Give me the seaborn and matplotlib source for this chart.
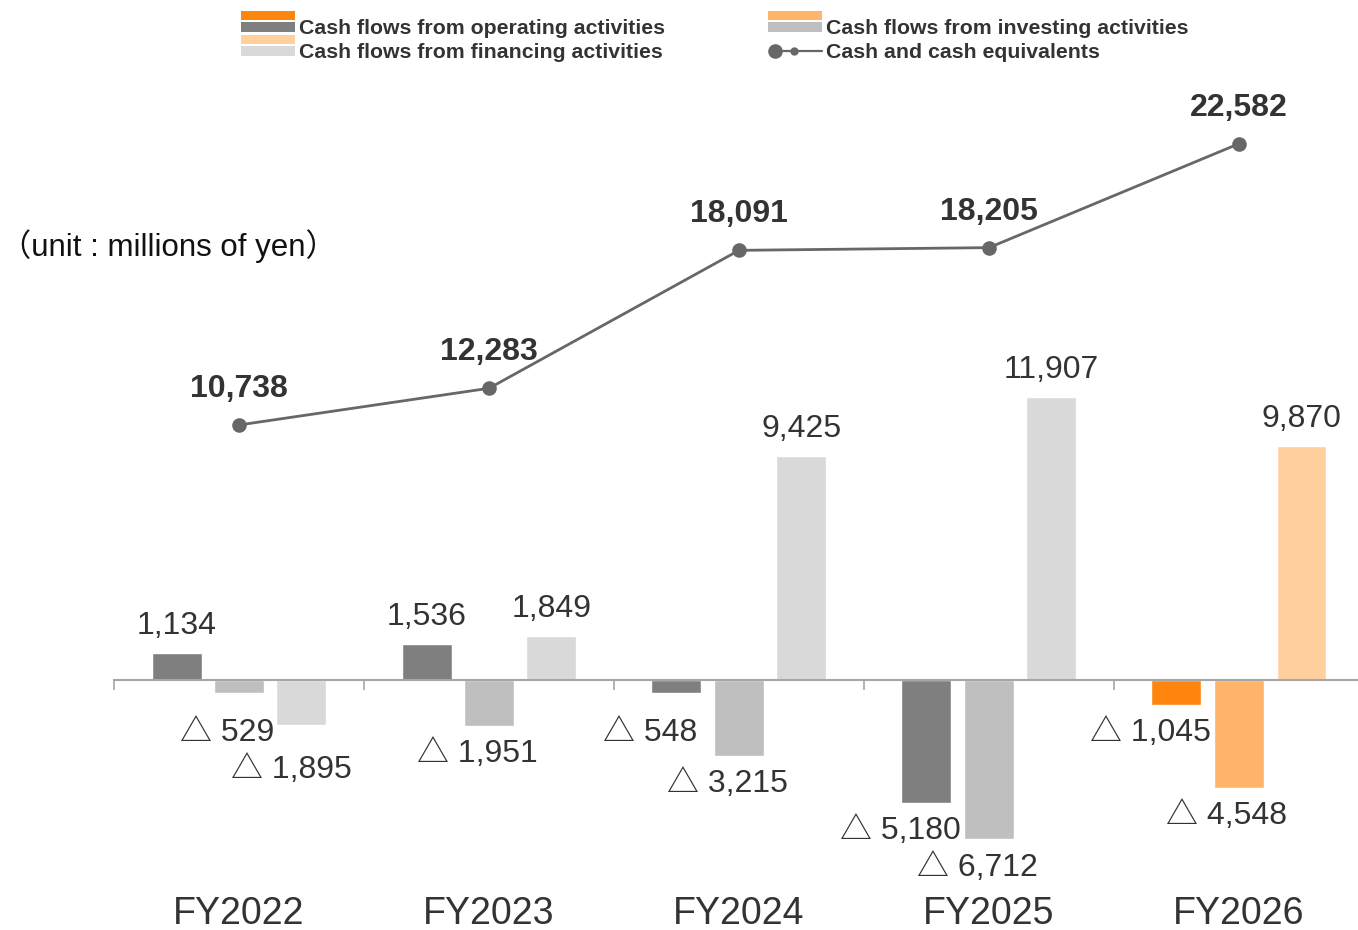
import numpy as np
import pandas as pd
import seaborn as sns
import matplotlib.pyplot as plt
from matplotlib.legend_handler import HandlerBase
from matplotlib.patches import Rectangle
from matplotlib.lines import Line2D


# Data (millions of yen)
YEARS = ['FY2022', 'FY2023', 'FY2024', 'FY2025', 'FY2026']
OPERATING = [1134, 1536, -548, -5180, -1045]
INVESTING = [-529, -1951, -3215, -6712, -4548]
FINANCING = [-1895, 1849, 9425, 11907, 9870]
CASH = [10738, 12283, 18091, 18205, 22582]
SERIES = ['Cash flows from operating activities',
          'Cash flows from investing activities',
          'Cash flows from financing activities']
CASH_LABEL = 'Cash and cash equivalents'
UNIT_LABEL = '（unit : millions of yen）'

# Style
GRAYS = ['#7f7f7f', '#bfbfbf', '#d9d9d9']
ORANGES = ['#ff850f', '#ffb469', '#ffd09e']
NEG_SHIFT = [-26, -12, -10]   # px, horizontal nudge of negative labels per series
LINE_COLOR = '#676767'
AXIS_COLOR = '#a6a6a6'
TEXT_COLOR = '#333333'
W, H, DPI = 1358, 930, 100
PX_PER_UNIT = 0.02375   # vertical scale of the plot
ZERO_PX = 680           # zero line, px from top


class StackedHandle:
    def __init__(self, top, bottom):
        self.top, self.bottom = top, bottom


class StackedHandler(HandlerBase):
    def create_artists(self, legend, orig_handle, xdescent, ydescent,
                       width, height, fontsize, trans):
        mid = height / 2 - ydescent
        low = Rectangle((-xdescent, mid - 3.6), width, 7.2,
                        facecolor=orig_handle.bottom, lw=0, transform=trans)
        high = Rectangle((-xdescent, mid + 5.0), width, 6.5,
                         facecolor=orig_handle.top, lw=0, transform=trans)
        return [low, high]


class CashHandle:
    pass


class CashHandler(HandlerBase):
    def create_artists(self, legend, orig_handle, xdescent, ydescent,
                       width, height, fontsize, trans):
        mid = height / 2 - ydescent
        x0 = -xdescent
        line = Line2D([x0 + 5, x0 + width], [mid, mid], color=LINE_COLOR,
                      lw=1.6, transform=trans)
        big = Line2D([x0 + 5], [mid], marker='o', markersize=10.5,
                     color=LINE_COLOR, mew=0, transform=trans)
        small = Line2D([x0 + width * 0.47], [mid], marker='o', markersize=6,
                       color=LINE_COLOR, mew=0, transform=trans)
        return [line, big, small]


sns.set_theme(style='white')
plt.rcParams['font.family'] = ['Liberation Sans', 'Noto Sans CJK JP', 'DejaVu Sans']

n = len(YEARS)
df = pd.DataFrame({
    'pos': np.tile(np.arange(n), 3),
    'value': OPERATING + INVESTING + FINANCING,
    'series': np.repeat(SERIES, n),
})

fig = plt.figure(figsize=(W / DPI, H / DPI), dpi=DPI)
ax = fig.add_axes([0, 0, 1, 1])

sns.barplot(data=df, x='pos', y='value', hue='series', hue_order=SERIES,
            palette=GRAYS, width=0.75, gap=0.2, saturation=1,
            errorbar=None, legend=False, ax=ax)

# last year drawn in orange tones
for container, orange in zip(ax.containers, ORANGES):
    container.patches[-1].set_facecolor(orange)

# bar value labels; negatives get a triangle and are pushed apart when they crowd
last_neg = {}
for container, vals, shift in zip(ax.containers, [OPERATING, INVESTING, FINANCING], NEG_SHIFT):
    for i, (patch, v) in enumerate(zip(container.patches, vals)):
        x = patch.get_x() + patch.get_width() / 2
        if v >= 0:
            ax.annotate(f'{v:,}', (x, v), xytext=(0, 27), textcoords='offset pixels',
                        ha='center', va='center', fontsize=23, color=TEXT_COLOR)
        else:
            off = max(-v * PX_PER_UNIT + 28, 53)
            if i in last_neg and off - last_neg[i] < 37:
                off = last_neg[i] + 37
            last_neg[i] = off
            ax.annotate(f'△ {-v:,}', (x, 0), xytext=(shift, -off),
                        textcoords='offset pixels', ha='center', va='center',
                        fontsize=23, color=TEXT_COLOR)

sns.lineplot(x=np.arange(n), y=CASH, color=LINE_COLOR, lw=2, marker='o',
             markersize=10.5, markeredgewidth=0, ax=ax)

for i, v in enumerate(CASH):
    ax.annotate(f'{v:,}', (i, v), xytext=(0, 36), textcoords='offset pixels',
                ha='center', va='center', fontsize=23, fontweight='bold', color=TEXT_COLOR)

# axes layout: 250 px per category, first category centred at x=239 px
ax.set_xlim(-239 / 250, (W - 239) / 250)
ax.set_ylim(-(H - ZERO_PX) / PX_PER_UNIT, ZERO_PX / PX_PER_UNIT)

sns.despine(ax=ax, left=True)
ax.spines['bottom'].set_position(('data', 0))
ax.spines['bottom'].set_bounds(-0.5, (W - 239) / 250)
ax.spines['bottom'].set_color(AXIS_COLOR)
ax.spines['bottom'].set_linewidth(1.5)
ax.set_xticks(np.arange(n) - 0.5)
ax.tick_params(axis='x', bottom=True, direction='out', length=7.5, width=1.2,
               color=AXIS_COLOR, labelbottom=False)
ax.set_yticks([])
ax.set_xlabel('')
ax.set_ylabel('')

for i, yr in enumerate(YEARS):
    ax.text(i, 16 / H, yr, transform=ax.get_xaxis_transform(), ha='center', va='center',
            fontsize=27, color=TEXT_COLOR)

fig.text(0, 1 - 246 / H, UNIT_LABEL, ha='left', va='center', fontsize=22.5, color='#111111')

handles = [StackedHandle(ORANGES[0], GRAYS[0]), StackedHandle(ORANGES[2], GRAYS[2]),
           StackedHandle(ORANGES[1], GRAYS[1]), CashHandle()]
labels = [SERIES[0], SERIES[2], SERIES[1], CASH_LABEL]
fig.legend(handles, labels, ncol=2, loc='upper left', bbox_to_anchor=(241 / W, 1 - 19 / H),
           frameon=False, handler_map={StackedHandle: StackedHandler(), CashHandle: CashHandler()},
           handlelength=2.55, handleheight=0.7, handletextpad=0.18, columnspacing=4.85,
           labelspacing=0.25, borderpad=0, borderaxespad=0,
           prop={'weight': 'bold', 'size': 15.3}, labelcolor=TEXT_COLOR)

fig.savefig('out.png', dpi=DPI)
